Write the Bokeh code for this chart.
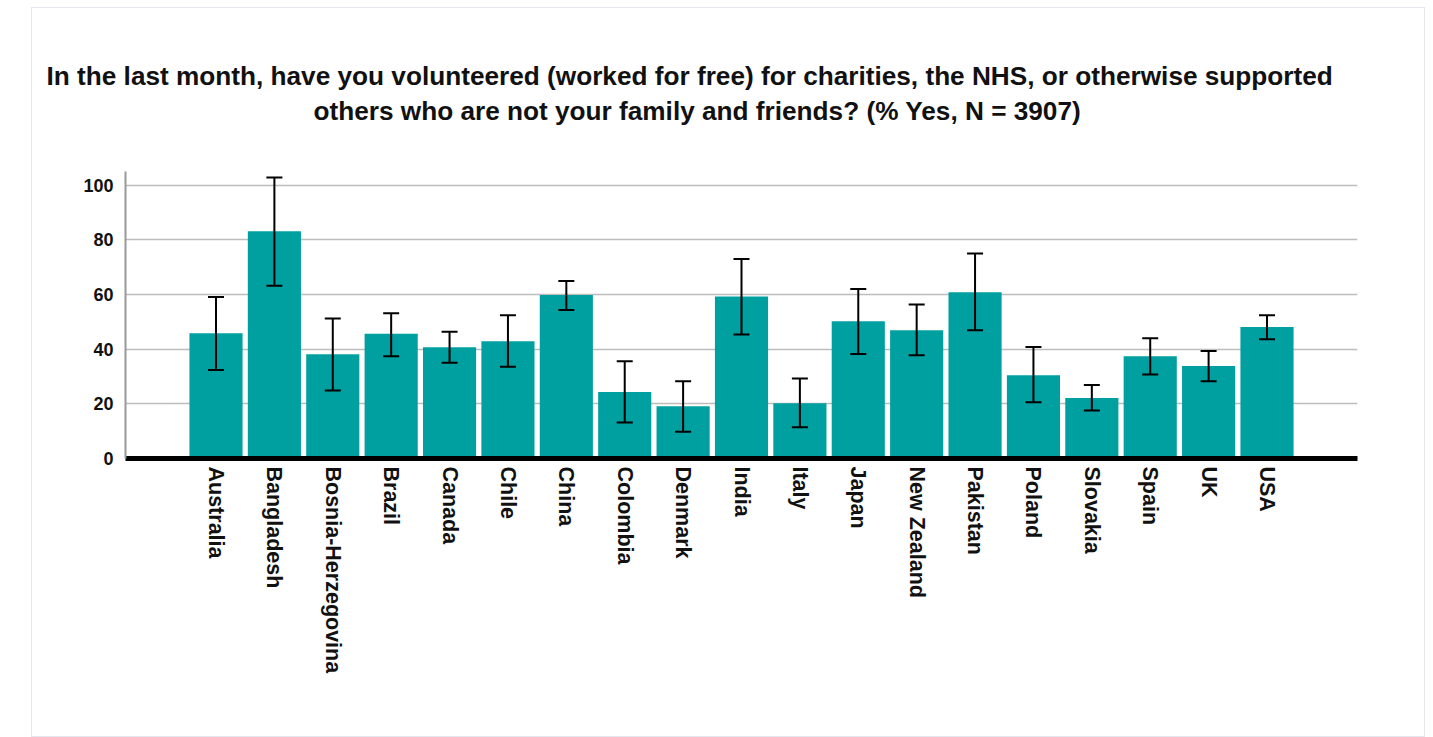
import math
from bokeh.plotting import figure
from bokeh.models import ColumnDataSource, FactorRange, Range1d, Whisker, TeeHead, FixedTicker, Title
from bokeh.embed import file_html
from bokeh.resources import INLINE

countries = ["Australia", "Bangladesh", "Bosnia-Herzegovina", "Brazil", "Canada", "Chile",
             "China", "Colombia", "Denmark", "India", "Italy", "Japan", "New Zealand",
             "Pakistan", "Poland", "Slovakia", "Spain", "UK", "USA"]
pct_yes = [45.8, 83.1, 38.1, 45.6, 40.7, 42.9, 59.8, 24.3, 19.1, 59.3, 20.2, 50.2, 46.9,
           60.8, 30.5, 22.1, 37.4, 33.8, 48.1]
ci_upper = [59.1, 102.8, 51.2, 53.1, 46.4, 52.4, 64.9, 35.6, 28.3, 73.0, 29.3, 62.0, 56.3,
            75.0, 40.8, 26.9, 44.0, 39.3, 52.4]
ci_lower = [32.4, 63.2, 24.9, 37.4, 35.0, 33.6, 54.3, 13.2, 9.8, 45.4, 11.4, 38.2, 37.8,
            46.9, 20.6, 17.6, 30.7, 28.3, 43.6]
y_ticks = [0, 20, 40, 60, 80, 100]
title_lines = ["In the last month, have you volunteered (worked for free) for charities, the NHS, or otherwise supported",
               "others who are not your family and friends? (% Yes, N = 3907)"]

src = ColumnDataSource(dict(country=countries, pct=pct_yes, upper=ci_upper, lower=ci_lower))

FONT = "Liberation Sans"

p = figure(
    x_range=FactorRange(factors=countries, range_padding=1.05, range_padding_units="absolute"),
    y_range=Range1d(0, 105),
    width=1394, height=730,
    output_backend="svg", toolbar_location=None,
    min_border_left=93, min_border_right=69, min_border_top=163, min_border_bottom=280,
)
p.margin = (7, 0, 0, 31)
p.styles = {"border": "1px solid #e4e8ee"}
p.outline_line_color = None
p.background_fill_color = "white"
p.border_fill_color = "white"

p.vbar(x="country", top="pct", width=0.91, source=src, fill_color="#009FA0", line_color=None)

w = Whisker(base="country", upper="upper", lower="lower", source=src,
            line_color="black", line_width=2,
            upper_head=TeeHead(size=16, line_color="black", line_width=2),
            lower_head=TeeHead(size=16, line_color="black", line_width=2))
w.level = "overlay"
p.add_layout(w)

# titles (closest to the plot first): spacer, line 2, line 1
t0 = Title(text=" ", text_font_size="1px", standoff=43)
t2 = Title(text=title_lines[1], align="left", offset=188, text_font=FONT,
           text_font_size="26.2px", text_font_style="bold", text_color="#111111", standoff=0)
t1 = Title(text=title_lines[0], align="left", offset=-79, text_font=FONT,
           text_font_size="26.2px", text_font_style="bold", text_color="#111111", standoff=6)
p.add_layout(t0, "above")
p.add_layout(t2, "above")
p.add_layout(t1, "above")

p.xgrid.grid_line_color = None
p.ygrid.grid_line_color = "#bdbdbd"
p.ygrid.grid_line_width = 1.5
p.yaxis.ticker = FixedTicker(ticks=y_ticks)

p.xaxis.axis_line_color = "black"
p.xaxis.axis_line_width = 5
p.xaxis.major_tick_line_color = None
p.xaxis.minor_tick_line_color = None
p.xaxis.major_label_orientation = -math.pi / 2
p.xaxis.major_label_standoff = 2
p.xaxis.major_label_text_font = FONT
p.xaxis.major_label_text_font_size = "21.5px"
p.xaxis.major_label_text_font_style = "bold"
p.xaxis.major_label_text_color = "#111111"

p.yaxis.axis_line_color = "#999999"
p.yaxis.axis_line_width = 2
p.yaxis.major_tick_line_color = None
p.yaxis.minor_tick_line_color = None
p.yaxis.major_label_standoff = 6
p.yaxis.major_label_text_font = FONT
p.yaxis.major_label_text_font_size = "18px"
p.yaxis.major_label_text_font_style = "bold"
p.yaxis.major_label_text_color = "#111111"

open("out.html", "w").write(file_html(p, INLINE))
